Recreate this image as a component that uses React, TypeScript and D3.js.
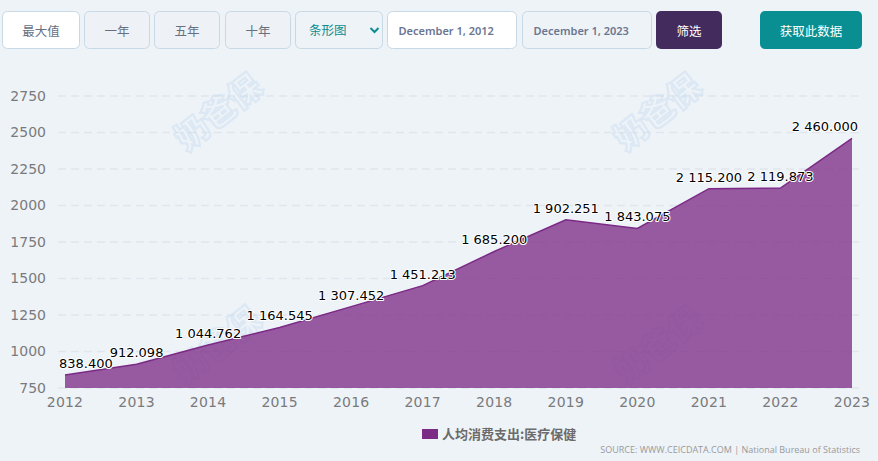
import React, { useEffect, useRef } from 'react';
import * as d3 from 'd3';

const years = [2012, 2013, 2014, 2015, 2016, 2017, 2018, 2019, 2020, 2021, 2022, 2023];
const spending = [838.4, 912.098, 1044.762, 1164.545, 1307.452, 1451.213, 1685.2, 1902.251, 1843.075, 2115.2, 2119.873, 2460];
const yTicks = [750, 1000, 1250, 1500, 1750, 2000, 2250, 2500, 2750];
const seriesName = '人均消费支出:医疗保健';
const sourceText = 'SOURCE: WWW.CEICDATA.COM | National Bureau of Statistics';
const watermarkText = '奶爸保';

const controls = [
  { label: '最大值', x: 2.5, w: 77, fill: '#ffffff', color: '#67707f' },
  { label: '一年', x: 84.5, w: 65, fill: '#eef2f7', color: '#67707f' },
  { label: '五年', x: 154.5, w: 65, fill: '#eef2f7', color: '#67707f' },
  { label: '十年', x: 225.5, w: 65, fill: '#eef2f7', color: '#67707f' },
];

const CJK = '"Noto Sans CJK SC", "Noto Sans", sans-serif';
const BG = '#eef3f8';

export default function App() {
  const svgRef = useRef<SVGSVGElement>(null);

  useEffect(() => {
    if (!svgRef.current) return;
    const svg = d3.select(svgRef.current);
    svg.selectAll('*').remove();

    svg.append('rect').attr('width', 878).attr('height', 461).attr('fill', BG);

    // toolbar
    controls.forEach(c => {
      svg.append('rect').attr('x', c.x).attr('y', 11.5).attr('width', c.w).attr('height', 37).attr('rx', 5)
        .attr('fill', c.fill).attr('stroke', '#c8d9e6');
      svg.append('text').attr('x', c.x + c.w / 2).attr('y', 35.5).attr('text-anchor', 'middle')
        .attr('font-family', CJK).attr('font-size', 12.5).attr('fill', c.color).text(c.label);
    });

    svg.append('rect').attr('x', 295.5).attr('y', 11.5).attr('width', 87).attr('height', 37).attr('rx', 5)
      .attr('fill', BG).attr('stroke', '#c8d9e6');
    svg.append('text').attr('x', 309).attr('y', 35).attr('font-family', CJK).attr('font-size', 12.5)
      .attr('fill', '#098e91').text('条形图');
    svg.append('path').attr('d', 'M370.5 28 L374.5 32 L378.5 28').attr('fill', 'none')
      .attr('stroke', '#098e91').attr('stroke-width', 2);

    [
      { label: 'December 1, 2012', x: 387.5, w: 129, fill: '#ffffff' },
      { label: 'December 1, 2023', x: 522.5, w: 129, fill: BG },
    ].forEach(d => {
      svg.append('rect').attr('x', d.x).attr('y', 11.5).attr('width', d.w).attr('height', 37).attr('rx', 5)
        .attr('fill', d.fill).attr('stroke', '#c8d9e6');
      svg.append('text').attr('x', d.x + 11).attr('y', 34.5).attr('font-family', '"Noto Sans", sans-serif')
        .attr('font-size', 11).attr('font-weight', 600).attr('fill', '#6b7691').text(d.label);
    });

    svg.append('rect').attr('x', 656).attr('y', 11).attr('width', 66).attr('height', 38).attr('rx', 5).attr('fill', '#432c5d');
    svg.append('text').attr('x', 689).attr('y', 35.5).attr('text-anchor', 'middle').attr('font-family', CJK)
      .attr('font-size', 12.5).attr('fill', '#ffffff').text('筛选');
    svg.append('rect').attr('x', 760).attr('y', 11).attr('width', 102).attr('height', 38).attr('rx', 5).attr('fill', '#098e91');
    svg.append('text').attr('x', 811).attr('y', 35.5).attr('text-anchor', 'middle').attr('font-family', CJK)
      .attr('font-size', 12.5).attr('fill', '#ffffff').text('获取此数据');

    // chart
    const x = d3.scaleLinear().domain([2012, 2023]).range([65, 852]);
    const y = d3.scaleLinear().domain([750, 2750]).range([388, 96]);

    const grid = svg.append('g');
    yTicks.forEach(t => {
      grid.append('line').attr('x1', 58).attr('x2', 860).attr('y1', y(t)).attr('y2', y(t))
        .attr('stroke', '#e0e6eb').attr('stroke-width', 1.5).attr('stroke-dasharray', '8 5');
      grid.append('text').attr('x', 46).attr('y', y(t) + 4.5).attr('text-anchor', 'end')
        .attr('font-family', 'DejaVu Sans').attr('font-size', 14).attr('fill', '#7a7a7c').text(t);
    });
    years.forEach(yr => {
      svg.append('text').attr('x', x(yr)).attr('y', 407).attr('text-anchor', 'middle')
        .attr('font-family', 'DejaVu Sans').attr('font-size', 14).attr('letter-spacing', 0.2)
        .attr('fill', '#7a7a7c').text(yr);
    });

    // watermarks under the area
    const marks = [[218, 112], [657, 112], [217, 345], [658, 345]];
    marks.forEach(([wx, wy]) => {
      svg.append('text').attr('transform', `translate(${wx},${wy}) rotate(-38)`)
        .attr('text-anchor', 'middle').attr('dy', 12)
        .attr('font-family', CJK).attr('font-size', 33).attr('font-weight', 900)
        .attr('fill', 'none').attr('stroke', '#c5daef').attr('stroke-opacity', 0.45).attr('stroke-width', 2.2)
        .text(watermarkText);
    });

    const points = years.map((yr, i) => ({ yr, v: spending[i] }));
    const area = d3.area<{ yr: number; v: number }>().x(d => x(d.yr)).y0(y(750)).y1(d => y(d.v));
    const line = d3.line<{ yr: number; v: number }>().x(d => x(d.yr)).y(d => y(d.v));
    svg.append('path').datum(points).attr('d', area).attr('fill', '#7b2a85').attr('fill-opacity', 0.76);
    svg.append('path').datum(points).attr('d', line).attr('fill', 'none').attr('stroke', '#7b2a85').attr('stroke-width', 1.5);

    // value labels
    const fmt = d3.formatLocale({ decimal: '.', thousands: ' ', grouping: [3], currency: ['', ''] }).format(',.3f');
    points.forEach((d, i) => {
      const first = i === 0;
      const last = i === points.length - 1;
      svg.append('text')
        .attr('x', first ? x(d.yr) - 6 : last ? x(d.yr) + 6 : x(d.yr))
        .attr('y', y(d.v) - 7)
        .attr('text-anchor', first ? 'start' : last ? 'end' : 'middle')
        .attr('font-family', 'DejaVu Sans').attr('font-size', 13)
        .attr('fill', '#000000').attr('stroke', '#ffffff').attr('stroke-width', 2)
        .attr('stroke-linejoin', 'round').attr('paint-order', 'stroke')
        .text(fmt(d.v));
    });

    // legend + source
    svg.append('rect').attr('x', 422).attr('y', 429).attr('width', 16).attr('height', 10).attr('fill', '#7b2a85');
    svg.append('text').attr('x', 442).attr('y', 438.5).attr('font-family', CJK).attr('font-size', 13)
      .attr('font-weight', 700).attr('fill', '#6b6b6b').text(seriesName);
    svg.append('text').attr('x', 860).attr('y', 452.5).attr('text-anchor', 'end').attr('font-family', '"Open Sans", sans-serif')
      .attr('font-size', 9).attr('fill', '#999999').text(sourceText);
  }, []);

  return (
    <svg ref={svgRef} width={878} height={461} viewBox="0 0 878 461"
      style={{ position: 'fixed', left: 0, top: 0, display: 'block' }}></svg>
  );
}
